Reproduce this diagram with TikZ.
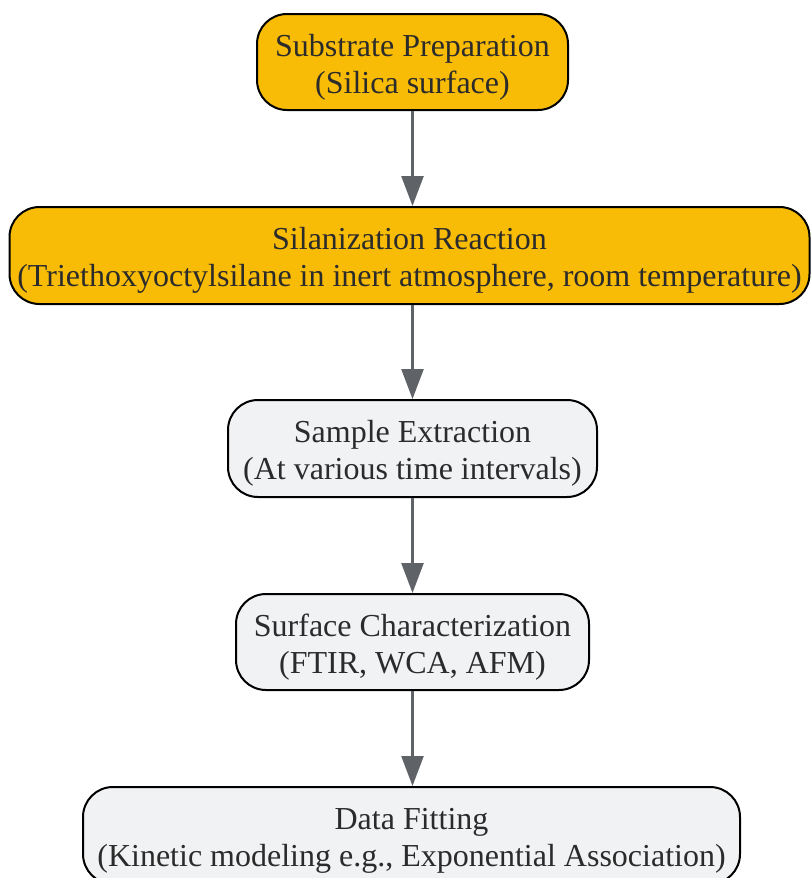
\documentclass[tikz,border=0pt]{standalone}
\usepackage{fontspec}
\setmainfont{Liberation Serif}
\usetikzlibrary{arrows.meta}
\definecolor{ylw}{HTML}{F9BC06}
\definecolor{lgray}{HTML}{F1F2F4}
\definecolor{arr}{HTML}{5F6368}
\definecolor{txt}{HTML}{2B2B2B}
\newcommand{\topstrut}{\rule{0pt}{32pt}}
\begin{document}
\begin{tikzpicture}[x=1pt,y=-1pt,
  box/.style={draw=black, line width=2pt, rounded corners=30pt, align=center,
    text=txt, inner sep=0pt, font=\fontsize{32}{37}\selectfont},
  yb/.style={box, fill=ylw},
  gb/.style={box, fill=lgray},
  flow/.style={draw=arr, line width=2.5pt, -{Triangle[width=22pt,length=30pt]}}]
\useasboundingbox (0,0) rectangle (811,878);
\node[yb, minimum width=311pt, minimum height=96pt] (n1) at (412.5,62) {\topstrut Substrate Preparation\\(Silica surface)};
\node[yb, minimum width=800pt, minimum height=97pt] (n2) at (409.5,255.5) {\topstrut Silanization Reaction\\(Triethoxyoctylsilane in inert atmosphere, room temperature)};
\node[gb, minimum width=369pt, minimum height=97pt] (n3) at (412.5,448.5) {\topstrut Sample Extraction\\(At various time intervals)};
\node[gb, minimum width=353pt, minimum height=96pt] (n4) at (412.5,642) {\topstrut Surface Characterization\\(FTIR, WCA, AFM)};
\node[gb, minimum width=657pt, minimum height=97pt] (n5) at (411.5,835.5) {\topstrut Data Fitting\\(Kinetic modeling e.g., Exponential Association)};
\draw[flow] (n1.south) -- (n1.south |- n2.north);
\draw[flow] (n1.south |- n2.south) -- (n3.north);
\draw[flow] (n3.south) -- (n4.north);
\draw[flow] (n4.south) -- (n4.south |- n5.north);
\end{tikzpicture}
\end{document}
